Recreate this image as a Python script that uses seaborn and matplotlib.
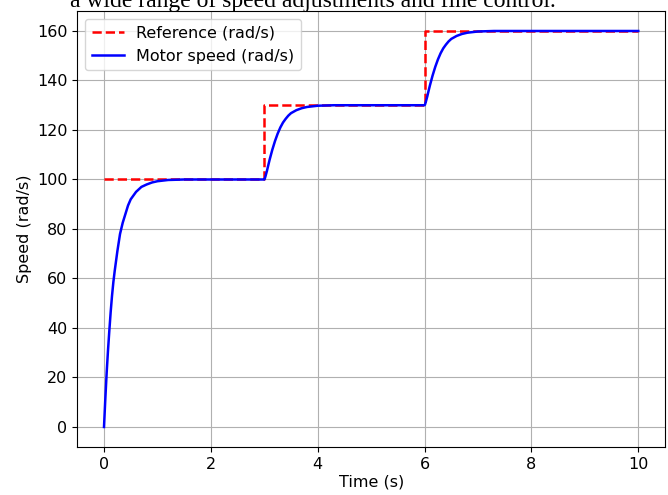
import matplotlib
matplotlib.use("Agg")
import matplotlib.pyplot as plt
import seaborn as sns
import pandas as pd

# reference speed (step changes at 3 s and 6 s)
ref_time = [0, 3, 3, 6, 6, 10]
ref_speed = [100, 100, 130, 130, 160, 160]

# motor speed
motor_time = [0, 0.025, 0.05, 0.075, 0.1, 0.125, 0.15, 0.175, 0.2, 0.25, 0.3, 0.35, 0.4, 0.45,
              0.5, 0.6, 0.7, 0.8, 0.9, 1.0, 1.2, 1.5, 2.0,
              3.0, 3.01, 3.025, 3.05, 3.075, 3.1, 3.15, 3.2, 3.25, 3.3, 3.35, 3.4, 3.45,
              3.5, 3.6, 3.7, 3.8, 4.0, 4.3, 5.0,
              6.0, 6.01, 6.025, 6.05, 6.075, 6.1, 6.15, 6.2, 6.25, 6.3, 6.35, 6.4, 6.45,
              6.5, 6.6, 6.7, 6.8, 7.0, 7.3, 8.0, 10.0]
motor_speed = [0, 11.5, 22, 31, 39, 46.5, 53, 58.5, 63, 71, 78, 82.5, 86, 89.5,
               92, 95, 97, 98, 98.8, 99.3, 99.8, 100, 100,
               100, 100.4, 101.5, 103.5, 105.8, 108, 112, 115.5, 118.5, 121, 123, 124.5, 125.8,
               126.8, 128, 128.8, 129.3, 129.8, 130, 130,
               130, 130.4, 131.5, 133.5, 135.8, 138, 142, 145.5, 148.5, 151, 153, 154.5, 155.8,
               156.8, 158, 158.8, 159.3, 159.8, 160, 160, 160]

ref_df = pd.DataFrame({"t": ref_time, "v": ref_speed})
motor_df = pd.DataFrame({"t": motor_time, "v": motor_speed})

plt.rcParams["font.size"] = 11.5

fig = plt.figure(figsize=(6.68, 4.95), dpi=100)
ax = fig.add_axes([0.1157, 0.0974, 0.8798, 0.88])

sns.lineplot(data=ref_df, x="t", y="v", ax=ax, color="red", linestyle="--",
             linewidth=1.8, label="Reference (rad/s)", sort=False, estimator=None)
sns.lineplot(data=motor_df, x="t", y="v", ax=ax, color="blue", linewidth=1.8,
             label="Motor speed (rad/s)", sort=False, estimator=None)

ax.set_xlabel("Time (s)", labelpad=2)
ax.set_ylabel("Speed (rad/s)")
ax.set_xlim(-0.5, 10.5)
ax.set_ylim(-8, 168)
ax.set_yticks(range(0, 161, 20))
ax.grid(True)
ax.legend(loc="upper left")

# caption line from the surrounding document, cut at the top
fig.text(0.105, 0.986, "a wide range of speed adjustments and fine control.",
         family="Liberation Serif", fontsize=17, va="baseline", ha="left")

fig.savefig("out.png", dpi=100)
